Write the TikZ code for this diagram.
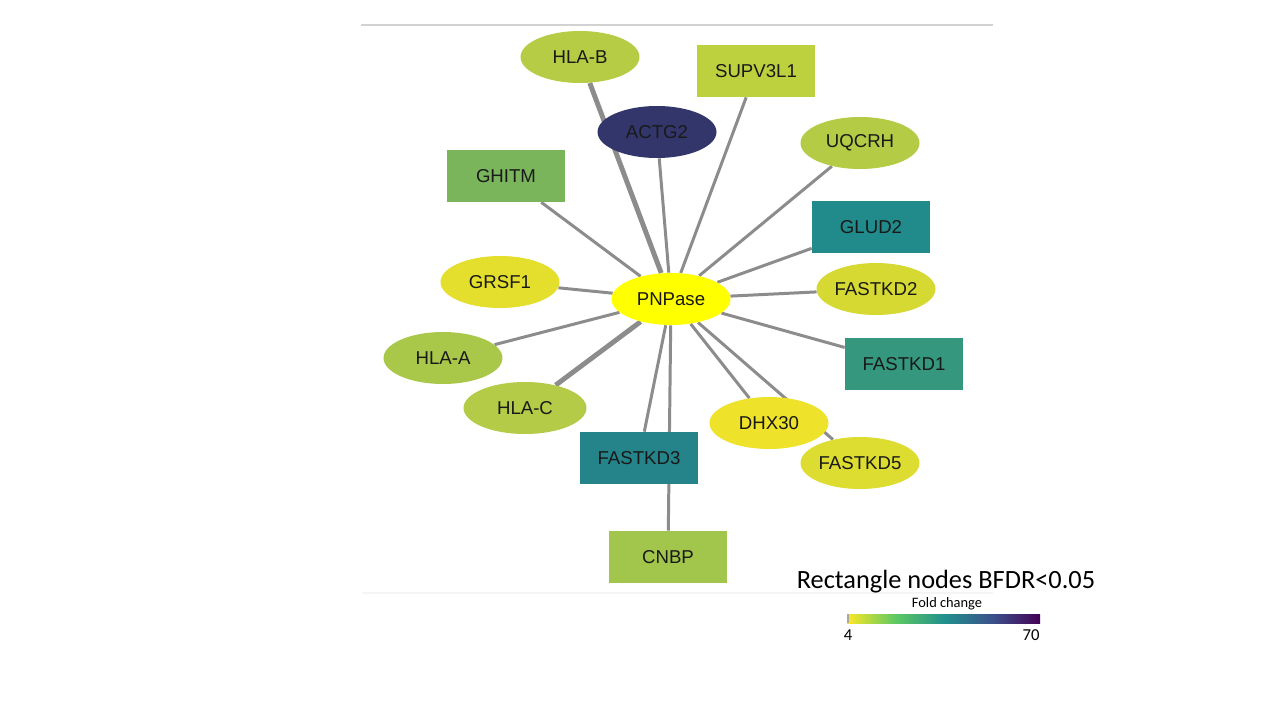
\documentclass[tikz,border=0pt]{standalone}
\usepackage{fontspec}
\setmainfont{Liberation Sans}
\newfontfamily\calibri{Carlito}
\usepackage{tikz}
\usetikzlibrary{shapes.geometric, backgrounds}
\definecolor{edgegray}{HTML}{8C8C8C}
\definecolor{cHLAB}{HTML}{B6CC45}
\definecolor{cSUPV}{HTML}{BDD13F}
\definecolor{cACTG}{HTML}{33366B}
\definecolor{cUQCRH}{HTML}{B3CB45}
\definecolor{cGHITM}{HTML}{7AB55C}
\definecolor{cGLUD}{HTML}{218A8A}
\definecolor{cGRSF}{HTML}{E4DF2C}
\definecolor{cPNP}{HTML}{FFFF00}
\definecolor{cKDtwo}{HTML}{D7D933}
\definecolor{cKDone}{HTML}{35977E}
\definecolor{cHLAA}{HTML}{A9C84A}
\definecolor{cHLAC}{HTML}{B3CB46}
\definecolor{cDHX}{HTML}{EEE22A}
\definecolor{cKDfive}{HTML}{DDDC30}
\definecolor{cKDthree}{HTML}{24848A}
\definecolor{cCNBP}{HTML}{A2C54B}
\definecolor{vA}{HTML}{FDE725}
\definecolor{vB}{HTML}{5EC962}
\definecolor{vC}{HTML}{21918C}
\definecolor{vD}{HTML}{3B528B}
\definecolor{vE}{HTML}{440154}
\pgfdeclarehorizontalshading{viridisr}{100bp}{color(0bp)=(vA); color(25bp)=(vA); color(37.5bp)=(vB); color(50bp)=(vC); color(62.5bp)=(vD); color(75bp)=(vE); color(100bp)=(vE)}
\tikzstyle{protein} = [ellipse, minimum width=2.38cm, minimum height=1.04cm, inner sep=0pt, font=\fontsize{10.6}{12}\selectfont, text=black!90]
\tikzstyle{hit} = [rectangle, minimum width=2.36cm, minimum height=1.04cm, inner sep=0pt, font=\fontsize{10.6}{12}\selectfont, text=black!90]
\tikzstyle{link} = [draw=edgegray, line width=1.7pt]
\tikzstyle{strong} = [draw=edgegray, line width=2.8pt]

\begin{document}
\begin{tikzpicture}[x=0.02cm, y=-0.02cm]
		\useasboundingbox (0,0) rectangle (1280,720);
		\draw [gray!35, line width=1pt] (361,25) -- (993,25);
		\draw [gray!8, line width=0.8pt] (362,593) -- (993,593);
		% nodes
		\node [protein, fill=cHLAB] (hlab) at (580,57) {HLA-B};
		\node [hit, fill=cSUPV] (supv) at (756,71) {SUPV3L1};
		\node [protein, fill=cACTG] (actg) at (657,132) {ACTG2};
		\node [protein, fill=cUQCRH] (uqcrh) at (860,143) {UQCRH};
		\node [hit, fill=cGHITM] (ghitm) at (506,176) {GHITM};
		\node [hit, fill=cGLUD] (glud) at (871,227) {GLUD2};
		\node [protein, fill=cGRSF] (grsf) at (500,282) {GRSF1};
		\node [protein, fill=cPNP] (pnp) at (671,299) {PNPase};
		\node [protein, fill=cKDtwo] (kdtwo) at (876,289) {FASTKD2};
		\node [hit, fill=cKDone] (kdone) at (904,364) {FASTKD1};
		\node [protein, fill=cHLAA] (hlaa) at (443,358) {HLA-A};
		\node [protein, fill=cHLAC, minimum width=2.46cm] (hlac) at (525,408) {HLA-C};
		\node [protein, fill=cDHX] (dhx) at (769,423) {DHX30};
		\node [protein, fill=cKDfive] (kdfive) at (860,463) {FASTKD5};
		\node [hit, fill=cKDthree] (kdthree) at (639,458) {FASTKD3};
		\node [hit, fill=cCNBP] (cnbp) at (668,557) {CNBP};
		% edges
		\begin{scope}[on background layer]
			\fill [white] (0,0) rectangle (1280,720);
			\draw [strong] (pnp) -- (hlab);
			\draw [strong] (pnp) -- (hlac);
			\draw [link] (pnp) -- (actg);
			\draw [link] (pnp) -- (supv);
			\draw [link] (pnp) -- (uqcrh);
			\draw [link] (pnp) -- (ghitm);
			\draw [link] (pnp) -- (glud);
			\draw [link] (pnp) -- (grsf);
			\draw [link] (pnp) -- (kdtwo);
			\draw [link] (pnp) -- (kdone);
			\draw [link] (pnp) -- (hlaa);
			\draw [link] (pnp) -- (dhx);
			\draw [link] (pnp) -- (kdfive);
			\draw [link] (pnp) -- (kdthree);
			\draw [link] (pnp) -- (cnbp);
		\end{scope}
		% legend
		\node [font=\calibri\fontsize{15}{18}\selectfont] (title) at (946,582) {Rectangle nodes BFDR<0.05};
		\node [font=\calibri\fontsize{8.2}{10}\selectfont] (foldlab) at (947,604) {Fold change};
		\shade [shading=viridisr] (847,614) rectangle (1040,623);
		\fill [gray!70] (847,614) rectangle (849,623);
		\node [font=\calibri\fontsize{9.5}{11}\selectfont] (low) at (848,635) {4};
		\node [font=\calibri\fontsize{9.5}{11}\selectfont] (high) at (1031,635) {70};
	\end{tikzpicture}
\end{document}
